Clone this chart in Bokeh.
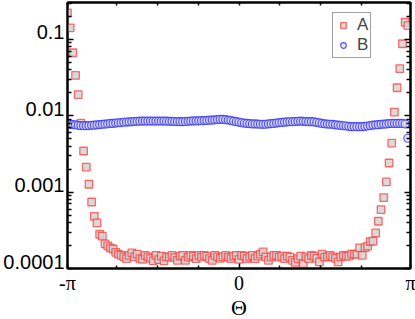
import numpy as np
from bokeh.plotting import figure
from bokeh.models import (FixedTicker, LinearAxis, LogAxis, Legend, LegendItem,
                          CustomJSTickFormatter, ColumnDataSource, Range1d, LogScale)
from bokeh.embed import file_html
from bokeh.resources import INLINE

# ---------------- data ----------------
N_POINTS = 128
theta = np.linspace(-np.pi, np.pi, N_POINTS, endpoint=False)

series_A = [
    0.223, 0.142, 0.067, 0.0338, 0.0190, 0.0080, 0.00346, 0.00213, 0.00127, 0.000743,
    0.000483, 0.000395, 0.000281, 0.000265, 0.000210, 0.000198, 0.000186, 0.000180, 0.000163, 0.000154,
    0.000149, 0.000142, 0.000135, 0.000149, 0.000160, 0.000142, 0.000154, 0.000135, 0.000132, 0.000149,
    0.000142, 0.000136, 0.000126, 0.000149, 0.000131, 0.000145, 0.000126, 0.000142, 0.000141, 0.000149,
    0.000139, 0.000128, 0.000145, 0.000149, 0.000128, 0.000141, 0.000149, 0.000145, 0.000135, 0.000149,
    0.000141, 0.000149, 0.000145, 0.000135, 0.000128, 0.000149, 0.000142, 0.000136, 0.000142, 0.000149,
    0.000141, 0.000135, 0.000145, 0.000149, 0.000132, 0.000149, 0.000145, 0.000135, 0.000142, 0.000149,
    0.000135, 0.000145, 0.000154, 0.000165, 0.000142, 0.000128, 0.000141, 0.000149, 0.000149, 0.000141,
    0.000145, 0.000135, 0.000145, 0.000141, 0.000128, 0.000120, 0.000135, 0.000145, 0.000116, 0.000142,
    0.000135, 0.000149, 0.000145, 0.000136, 0.000122, 0.000154, 0.000141, 0.000142, 0.000149, 0.000142,
    0.000136, 0.000122, 0.000142, 0.000149, 0.000145, 0.000145, 0.000154, 0.000154, 0.000154, 0.000186,
    0.000149, 0.000188, 0.000196, 0.000225, 0.000228, 0.000292, 0.000416, 0.000592, 0.000849, 0.00136,
    0.00241, 0.00440, 0.0112, 0.0233, 0.0414, 0.0879, 0.168, 0.152,
]

series_B = [
    0.00779, 0.00773, 0.00768, 0.00761, 0.00750, 0.00743, 0.00743, 0.00743, 0.00746, 0.00750,
    0.00754, 0.00761, 0.00768, 0.00773, 0.00779, 0.00786, 0.00794, 0.00796, 0.00803, 0.00811,
    0.00815, 0.00823, 0.00828, 0.00833, 0.00838, 0.00843, 0.00846, 0.00851, 0.00853, 0.00853,
    0.00853, 0.00853, 0.00853, 0.00853, 0.00853, 0.00853, 0.00853, 0.00851, 0.00848, 0.00846,
    0.00843, 0.00841, 0.00838, 0.00838, 0.00843, 0.00848, 0.00853, 0.00856, 0.00858, 0.00861,
    0.00864, 0.00866, 0.00871, 0.00877, 0.00879, 0.00887, 0.00893, 0.00898, 0.00898, 0.00890,
    0.00879, 0.00866, 0.00851, 0.00838, 0.00826, 0.00811, 0.00801, 0.00796, 0.00789, 0.00784,
    0.00782, 0.00779, 0.00775, 0.00773, 0.00775, 0.00782, 0.00789, 0.00796, 0.00803, 0.00813,
    0.00820, 0.00826, 0.00831, 0.00836, 0.00838, 0.00843, 0.00846, 0.00851, 0.00846, 0.00841,
    0.00838, 0.00838, 0.00831, 0.00820, 0.00808, 0.00796, 0.00786, 0.00779, 0.00775, 0.00773,
    0.00763, 0.00754, 0.00748, 0.00741, 0.00736, 0.00727, 0.00721, 0.00721, 0.00721, 0.00721,
    0.00721, 0.00727, 0.00736, 0.00746, 0.00757, 0.00761, 0.00766, 0.00773, 0.00777, 0.00784,
    0.00791, 0.00796, 0.00796, 0.00796, 0.00796, 0.00796, 0.00784, 0.00508,
]

series_names = ["A", "B"]

x_ticks = [-np.pi, 0, np.pi]
x_tick_labels = ["-π", "0", "π"]
x_minor_ticks = [-2.25, -1.5, -0.75, 0.75, 1.5, 2.25]

y_ticks = [0.0001, 0.001, 0.01, 0.1]
y_tick_labels = ["0.0001", "0.001", "0.01", "0.1"]
y_minor_ticks = [d * m for d in y_ticks for m in range(2, 10)]

x_title = "Θ"

assert len(series_A) == N_POINTS and len(series_B) == N_POINTS

# ---------------- layout constants ----------------
FRAME_W, FRAME_H = 343, 266
Y_LO, Y_HI = 0.0001, 0.305
LABEL_RAISE_PX = 7  # y tick labels sit above their ticks (baseline on tick)

p = figure(frame_width=FRAME_W, frame_height=FRAME_H, output_backend="svg",
           toolbar_location=None, y_axis_type="log",
           x_range=(-np.pi, np.pi), y_range=(Y_LO, Y_HI),
           x_axis_location=None, y_axis_location=None,
           min_border_left=65, min_border_right=7, min_border_top=2, min_border_bottom=51)
p.outline_line_color = "black"
p.outline_line_width = 2
p.xgrid.visible = False
p.ygrid.visible = False
p.background_fill_color = "white"
p.border_fill_color = "white"

src = ColumnDataSource(dict(theta=theta, A=series_A, B=series_B))

rA = p.scatter("theta", "A", source=src, marker="square", size=7.5,
               fill_color="#d4d4d4", fill_alpha=0.85,
               line_color="#ff3b3b", line_alpha=0.75, line_width=1.3)
rB = p.scatter("theta", "B", source=src, marker="circle", size=8,
               fill_color="#dcdce8", fill_alpha=0.6,
               line_color="#3b3bff", line_alpha=0.85, line_width=1.2)

empty = CustomJSTickFormatter(code="return ''")
xt = FixedTicker(ticks=x_ticks, minor_ticks=x_minor_ticks)
yt = FixedTicker(ticks=y_ticks, minor_ticks=y_minor_ticks)


def style_axis(ax, major_in, minor_in):
    ax.axis_line_color = "black"
    ax.axis_line_width = 2
    ax.major_tick_line_color = "black"
    ax.major_tick_line_width = 1.5
    ax.minor_tick_line_color = "black"
    ax.minor_tick_line_width = 1.5
    ax.major_tick_in = major_in
    ax.major_tick_out = 0
    ax.minor_tick_in = minor_in
    ax.minor_tick_out = 0


bottom = LinearAxis(ticker=xt)
style_axis(bottom, 5, 3)
bottom.major_label_overrides = {t: s for t, s in zip(x_ticks, x_tick_labels)}
bottom.major_label_text_font = "Liberation Serif"
bottom.major_label_text_font_size = "20px"
bottom.major_label_text_color = "black"
bottom.major_label_standoff = 3
bottom.axis_label = x_title
bottom.axis_label_text_font = "Liberation Serif"
bottom.axis_label_text_font_size = "22px"
bottom.axis_label_text_font_style = "normal"
bottom.axis_label_text_color = "black"
bottom.axis_label_standoff = -2
p.add_layout(bottom, "below")

top = LinearAxis(ticker=xt, formatter=empty)
style_axis(top, 3, 3)
top.major_label_text_font_size = "0px"
top.major_label_standoff = 0
p.add_layout(top, "above")

left = LogAxis(ticker=yt, formatter=empty)
style_axis(left, 6, 4)
left.major_label_text_font_size = "0px"
left.major_label_standoff = 0
p.add_layout(left, "left")

right = LogAxis(ticker=yt, formatter=empty)
style_axis(right, 6, 4)
right.major_label_text_font_size = "0px"
right.major_label_standoff = 0
p.add_layout(right, "right")

# label-only axis on a range raised by a few pixels, so labels sit on top of the ticks
dec = np.log10(Y_HI / Y_LO) * LABEL_RAISE_PX / FRAME_H
p.extra_y_ranges = {"labels": Range1d(Y_LO * 10 ** (-dec), Y_HI * 10 ** (-dec))}
p.extra_y_scales = {"labels": LogScale()}
lab_axis = LogAxis(y_range_name="labels", ticker=FixedTicker(ticks=y_ticks, minor_ticks=[]))
lab_axis.major_label_overrides = {t: s for t, s in zip(y_ticks, y_tick_labels)}
lab_axis.axis_line_color = None
lab_axis.major_tick_line_color = None
lab_axis.minor_tick_line_color = None
lab_axis.major_tick_in = 0
lab_axis.major_tick_out = 0
lab_axis.minor_tick_in = 0
lab_axis.minor_tick_out = 0
lab_axis.major_label_standoff = 3
lab_axis.major_label_text_font = "Liberation Sans"
lab_axis.major_label_text_font_size = "20px"
lab_axis.major_label_text_color = "black"
p.add_layout(lab_axis, "left")

legend = Legend(items=[LegendItem(label=series_names[0], renderers=[rA]),
                       LegendItem(label=series_names[1], renderers=[rB])],
                location=(265, 210), padding=2, spacing=0, margin=0,
                glyph_width=16, glyph_height=14, label_standoff=6,
                label_width=11, label_height=16,
                label_text_font="Liberation Sans", label_text_font_size="17px",
                border_line_color="#444444", border_line_width=1,
                background_fill_color="white", background_fill_alpha=1.0)
p.add_layout(legend)

open("out.html", "w").write(file_html(p, INLINE))
